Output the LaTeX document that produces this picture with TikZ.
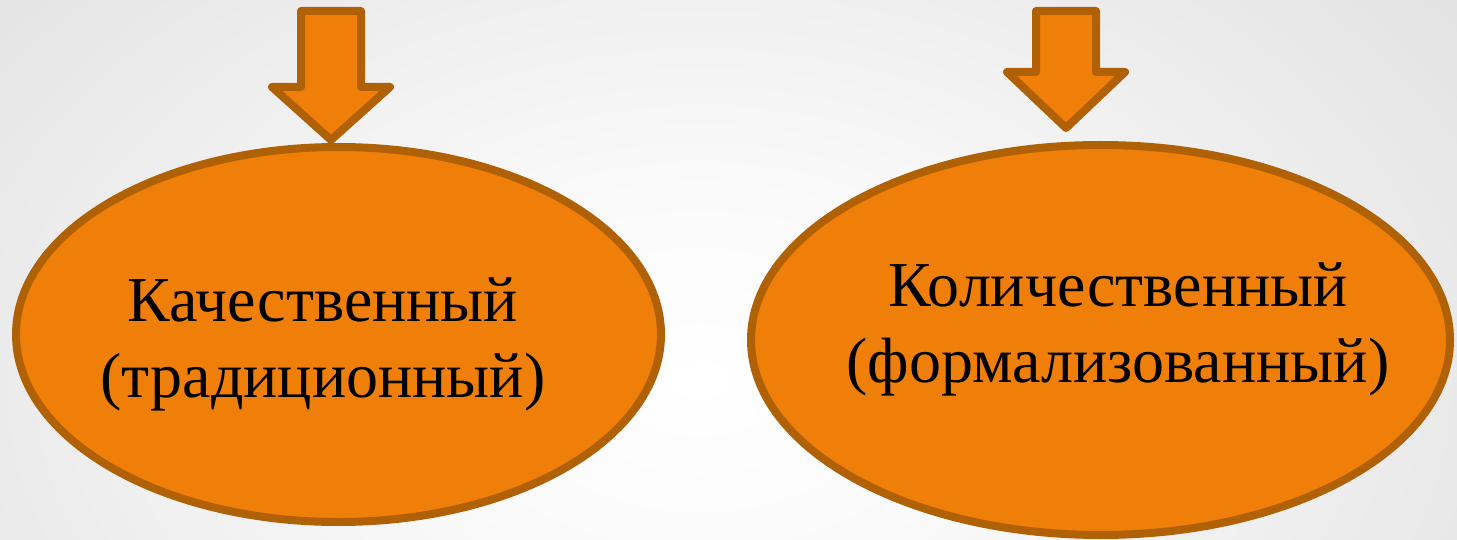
\documentclass[tikz,border=0pt]{standalone}
\usepackage{fontspec}
\setmainfont{Liberation Serif}
\usetikzlibrary{shapes.geometric}

\definecolor{oval}{RGB}{240,127,10}
\definecolor{rim}{RGB}{176,96,5}
\pgfdeclareradialshading{slidebg}{\pgfpoint{0bp}{0bp}}{color(0bp)=(white); color(8bp)=(white!98!black); color(50bp)=(white!77!black); color(75bp)=(white!72!black)}

\begin{document}
\begin{tikzpicture}[x=1pt,y=-1pt,
    oval/.style={ellipse,draw=rim,fill=oval,line width=8pt,inner sep=0pt},
    txt/.style={align=center,inner sep=0pt,font=\fontsize{64}{76}\selectfont},
    blockarr/.style={draw=rim,fill=oval,line width=8pt,line join=round}]
    \useasboundingbox (0,0) rectangle (1457,540);
    \begin{scope}
      \clip (0,0) rectangle (1457,540);
      \shade[shading=slidebg] (-200,-220) rectangle (1600,980);
    \end{scope}

    \node[oval,minimum width=645pt,minimum height=375pt] (kach) at (338.5,334.5) {};
    \node[oval,minimum width=699pt,minimum height=390pt] (kol) at (1100.5,340) {};

    \node[txt] (kachT) at (323,344) {Качественный\\(традиционный)};
    \node[txt] (kolT) at (1118,329) {Количественный\\(формализованный)};

    \coordinate (tipL) at (331,140);
    \coordinate (tipR) at (1066,128);

    \foreach \tip/\hd/\sh in {tipL/53/76, tipR/56/61}
      \draw[blockarr] (\tip) -- ++(-59,-\hd) -- ++(29,0) -- ++(0,-\sh)
        -- ++(60,0) -- ++(0,\sh) -- ++(29,0) -- cycle;
\end{tikzpicture}
\end{document}
